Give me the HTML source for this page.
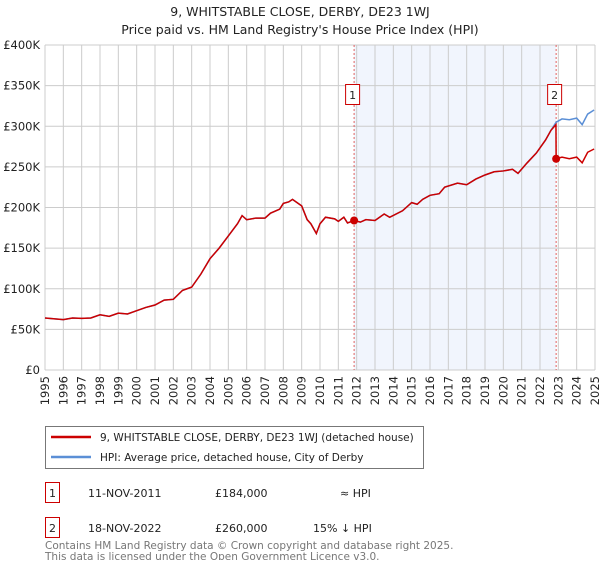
<!DOCTYPE html>
<html><head><meta charset="utf-8"><style>
body{margin:0;background:#fff;font-family:"Liberation Sans","DejaVu Sans",sans-serif;}
svg text{font-family:"DejaVu Sans","Liberation Sans",sans-serif;}
</style></head><body>
<svg width="600" height="560" xmlns="http://www.w3.org/2000/svg" id="chart">
<text x="300" y="16" text-anchor="middle" font-size="12.5" fill="#222">9, WHITSTABLE CLOSE, DERBY, DE23 1WJ</text>
<text x="300" y="34" text-anchor="middle" font-size="12.5" fill="#222">Price paid vs. HM Land Registry's House Price Index (HPI)</text>
<g id="grid"></g><g id="marks"></g>
<g>
<rect x="45.5" y="426.5" width="378" height="42" fill="#fff" stroke="#777"/>
<line x1="51" y1="437" x2="91" y2="437" stroke="#cc0000" stroke-width="2.5"/>
<text x="100" y="441" font-size="10.5" fill="#222">9, WHITSTABLE CLOSE, DERBY, DE23 1WJ (detached house)</text>
<line x1="51" y1="457" x2="91" y2="457" stroke="#5b8fd6" stroke-width="2.5"/>
<text x="100" y="461" font-size="10.5" fill="#222">HPI: Average price, detached house, City of Derby</text>
</g>
<g font-size="11" fill="#222">
<rect x="45.5" y="482.5" width="14" height="20" fill="#fff" stroke="#cc0000"/>
<text x="52.5" y="497" text-anchor="middle">1</text>
<text x="88" y="497">11-NOV-2011</text><text x="215" y="497">£184,000</text><text x="340" y="497">≈ HPI</text>
<rect x="45.5" y="517.5" width="14" height="20" fill="#fff" stroke="#cc0000"/>
<text x="52.5" y="532" text-anchor="middle">2</text>
<text x="88" y="532">18-NOV-2022</text><text x="215" y="532">£260,000</text><text x="313" y="532">15% ↓ HPI</text>
</g>
<text x="45" y="549" font-size="10.5" fill="#777">Contains HM Land Registry data © Crown copyright and database right 2025.</text>
<text x="45" y="560" font-size="10.5" fill="#777">This data is licensed under the Open Government Licence v3.0.</text>
</svg>
<script>
const yTicks=[0,50,100,150,200,250,300,350,400];
const yTickLabels=["£0","£50K","£100K","£150K","£200K","£250K","£300K","£350K","£400K"];
const years=[1995,1996,1997,1998,1999,2000,2001,2002,2003,2004,2005,2006,2007,2008,2009,2010,2011,2012,2013,2014,2015,2016,2017,2018,2019,2020,2021,2022,2023,2024,2025];
const hpiDates=[1995,1996,1996.5,1997,1997.5,1998,1998.5,1999,1999.5,2000,2000.5,2001,2001.5,2002,2002.5,2003,2003.5,2004,2004.5,2005,2005.5,2005.75,2006,2006.5,2007,2007.3,2007.8,2008,2008.3,2008.5,2009,2009.3,2009.5,2009.8,2010,2010.3,2010.8,2011,2011.3,2011.5,2011.86,2012.2,2012.5,2013,2013.5,2013.8,2014.5,2015,2015.3,2015.6,2016,2016.5,2016.8,2017.5,2018,2018.5,2019,2019.5,2020,2020.5,2020.8,2021.3,2021.8,2022.3,2022.6,2022.88,2023.2,2023.6,2024,2024.3,2024.6,2024.95];
const hpiValues=[64,62,64,63.5,64,68,66,70,69,73,77,80,86,87,98,102,118,137,150,165,180,190,185,187,187,193,198,205,207,210,202,185,180,168,180,188,186,183,188,181,184,182,185,184,192,188,196,206,204,210,215,217,225,230,228,235,240,244,245,247,242,255,267,283,295,305,309,308,310,302,315,320];
const priceDates=[1995,1996,1996.5,1997,1997.5,1998,1998.5,1999,1999.5,2000,2000.5,2001,2001.5,2002,2002.5,2003,2003.5,2004,2004.5,2005,2005.5,2005.75,2006,2006.5,2007,2007.3,2007.8,2008,2008.3,2008.5,2009,2009.3,2009.5,2009.8,2010,2010.3,2010.8,2011,2011.3,2011.5,2011.86,2012.2,2012.5,2013,2013.5,2013.8,2014.5,2015,2015.3,2015.6,2016,2016.5,2016.8,2017.5,2018,2018.5,2019,2019.5,2020,2020.5,2020.8,2021.3,2021.8,2022.3,2022.6,2022.87,2022.88,2023.2,2023.6,2024,2024.3,2024.6,2024.95];
const priceValues=[64,62,64,63.5,64,68,66,70,69,73,77,80,86,87,98,102,118,137,150,165,180,190,185,187,187,193,198,205,207,210,202,185,180,168,180,188,186,183,188,181,184,182,185,184,192,188,196,206,204,210,215,217,225,230,228,235,240,244,245,247,242,255,267,283,295,302,260,262,260,262,255,268,272];
const saleDates=[2011.86,2022.88];
const saleValues=[184,260];
const saleLabels=["1","2"];
const NS="http://www.w3.org/2000/svg";
const L=45,R=595,T=45,B=370;
const x=d=>L+(d-1995)/30*(R-L);
const y=v=>B-v/400*(B-T);
function mk(tag,attrs,parent){const e=document.createElementNS(NS,tag);for(const k in attrs)e.setAttribute(k,attrs[k]);parent.appendChild(e);return e;}
const grid=document.getElementById('grid'),marks=document.getElementById('marks');
const shade=mk('rect',{x:x(saleDates[0]),y:T,width:x(saleDates[1])-x(saleDates[0]),height:B-T,fill:'#eef3fc',opacity:0.8},grid);


years.forEach(yr=>{const l=mk('line',{x1:x(yr),x2:x(yr),y1:T,y2:B,stroke:'#ccc'},grid);


const t=mk('text',{x:0,y:0,'font-size':11.5,fill:'#222','text-anchor':'end',transform:`translate(${x(yr)+4},${B+6}) rotate(-90)`},grid);t.textContent=yr;

});
yTicks.forEach((v,i)=>{const l=mk('line',{x1:L,x2:R,y1:y(v),y2:y(v),stroke:'#ccc'},grid);


const t=mk('text',{x:L-5,y:y(v)+4,'font-size':11.5,fill:'#222','text-anchor':'end'},grid);t.textContent=yTickLabels[i];

});
saleDates.forEach(d=>{const l=mk('line',{x1:x(d),x2:x(d),y1:T,y2:B,stroke:'#e06060','stroke-dasharray':'2,2'},grid);

});
const hp=mk('polyline',{points:hpiDates.map((d,i)=>x(d)+','+y(hpiValues[i])).join(' '),fill:'none',stroke:'#5b8fd6','stroke-width':1.5},marks);


const pp=mk('polyline',{points:priceDates.map((d,i)=>x(d)+','+y(priceValues[i])).join(' '),fill:'none',stroke:'#cc0000','stroke-width':1.5},marks);


saleDates.forEach((d,i)=>{const c=mk('circle',{cx:x(d),cy:y(saleValues[i]),r:4,fill:'#cc0000'},marks);


const r=mk('rect',{x:x(d)-8.5,y:84.5,width:14,height:20,fill:'#fff',stroke:'#cc0000'},marks);


const t=mk('text',{x:x(d)-1.5,y:99,'font-size':11,fill:'#222','text-anchor':'middle'},marks);t.textContent=saleLabels[i];

});
</script>
</body></html>
